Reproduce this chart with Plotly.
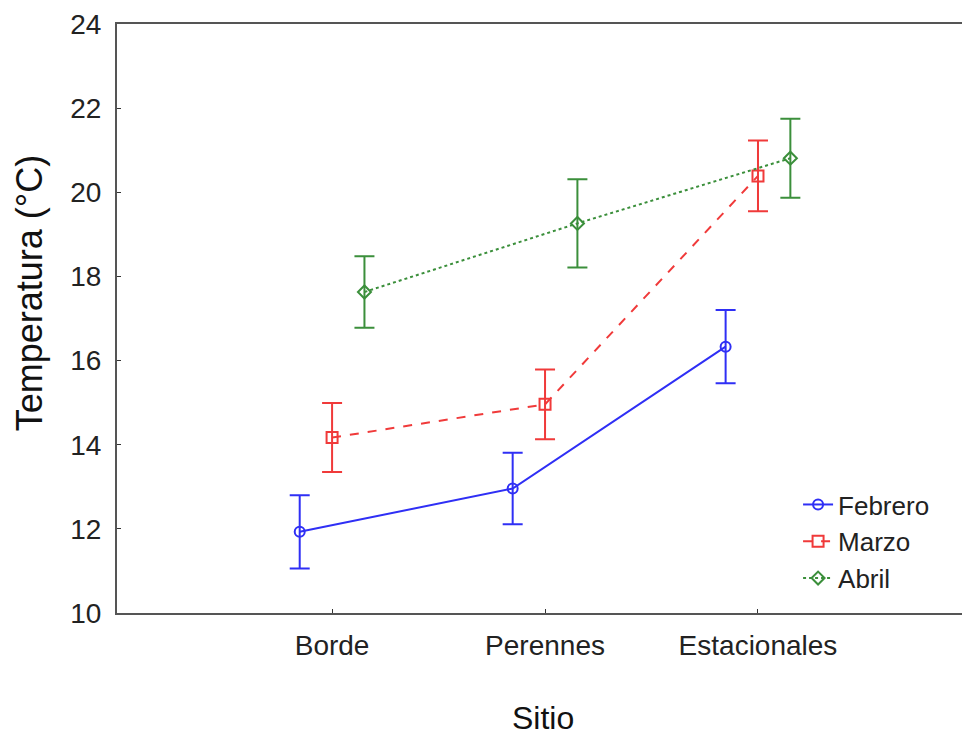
import plotly.graph_objects as go

# Sites (x categories) and monthly mean temperatures with their error half-widths
sitios = ["Borde", "Perennes", "Estacionales"]
meses = ["Febrero", "Marzo", "Abril"]

febrero = [11.93, 12.96, 16.33]
febrero_err = [0.87, 0.85, 0.87]
marzo = [14.17, 14.96, 20.39]
marzo_err = [0.82, 0.83, 0.84]
abril = [17.63, 19.26, 20.81]
abril_err = [0.85, 1.05, 0.94]

y_ticks = [10, 12, 14, 16, 18, 20, 22, 24]

series = [
    dict(name="Febrero", y=febrero, err=febrero_err, color="#2f2ff5",
         dash="solid", symbol="circle-open", size=10, shift=-0.152),
    dict(name="Marzo", y=marzo, err=marzo_err, color="#f03a3a",
         dash="dash", symbol="square-open", size=11, shift=0.0),
    dict(name="Abril", y=abril, err=abril_err, color="#3b8f3b",
         dash="dot", symbol="diamond-open", size=10, shift=0.152),
]

FONT = "Liberation Sans, Arial, sans-serif"

fig = go.Figure()
for s in series:
    xs = [i + 1 + s["shift"] for i in range(len(sitios))]
    fig.add_trace(go.Scatter(
        x=xs, y=s["y"], name=s["name"], mode="lines+markers",
        line=dict(color=s["color"], width=2, dash=s["dash"]),
        marker=dict(symbol=s["symbol"], size=s["size"], color=s["color"],
                    line=dict(width=2, color=s["color"])),
        error_y=dict(type="data", array=s["err"], visible=True,
                     color=s["color"], thickness=2, width=10),
    ))

fig.update_layout(
    width=962, height=738,
    margin=dict(l=117, r=0, t=24, b=125),
    paper_bgcolor="white", plot_bgcolor="white",
    font=dict(family=FONT, color="#222222"),
    showlegend=True,
    legend=dict(x=0.806, y=0.224, xanchor="left", yanchor="top",
                font=dict(size=26, color="#222222", family=FONT),
                bgcolor="rgba(0,0,0,0)", tracegroupgap=0,
                itemwidth=30),
    xaxis=dict(
        range=[-0.01, 3.958], tickmode="array",
        tickvals=[i + 1 for i in range(len(sitios))], ticktext=sitios,
        ticks="inside", ticklen=4, tickcolor="#333333",
        showline=True, linecolor="#555555", linewidth=2, mirror=True,
        showgrid=False, zeroline=False,
        tickfont=dict(size=28, family=FONT, color="#222222"),
        ticklabelstandoff=6,
    ),
    yaxis=dict(
        range=[10, 24], tickmode="array", tickvals=y_ticks,
        ticks="inside", ticklen=4, tickcolor="#333333",
        showline=True, linecolor="#555555", linewidth=2,
        showgrid=False, zeroline=False,
        tickfont=dict(size=28, family=FONT, color="#222222"),
        ticklabelstandoff=8,
    ),
    annotations=[
        dict(text="Temperatura (°C)", textangle=-90, xref="paper", yref="paper",
             x=-0.104, y=0.543, xanchor="center", yanchor="middle",
             showarrow=False, font=dict(size=36, family=FONT, color="#111111")),
        dict(text="Sitio", xref="paper", yref="paper",
             x=0.504, y=-0.2113, xanchor="center", yanchor="bottom",
             borderpad=0,
             showarrow=False, font=dict(size=32, family=FONT, color="#111111")),
    ],
)

fig.write_html("out.html")
